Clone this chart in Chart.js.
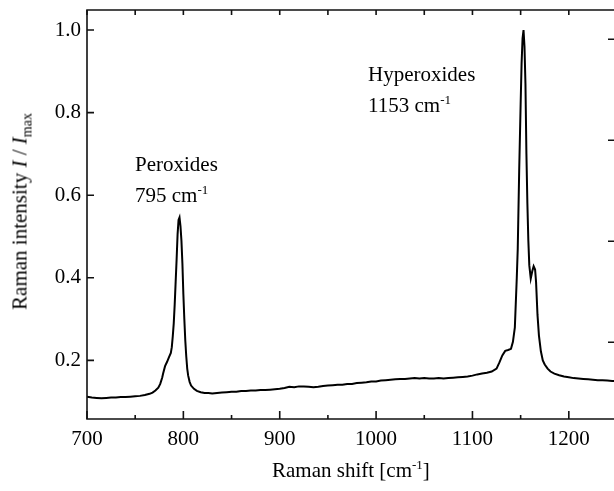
<!DOCTYPE html>
<html>
<head>
<meta charset="utf-8">
<script src="https://cdn.jsdelivr.net/npm/chart.js@4/dist/chart.umd.min.js"></script>
<style>
  html, body { margin: 0; padding: 0; background: #fff; overflow: hidden; }
  #wrap { position: relative; width: 630px; height: 491px; }
  .txt { position: absolute; font-family: "Liberation Serif", "Times New Roman", serif; font-size: 21px; color: #000; white-space: nowrap; line-height: 31px; }
  .txt sup { font-size: 13px; line-height: 0; vertical-align: 8px; }
  .txt sub { font-size: 14px; line-height: 0; vertical-align: -5px; }
</style>
</head>
<body>
<div id="wrap">
  <canvas id="chart1"></canvas>
  <div class="txt" style="left:135px; top:149px;">Peroxides<br>795 cm<sup>-1</sup></div>
  <div class="txt" style="left:368px; top:59px;">Hyperoxides<br>1153 cm<sup>-1</sup></div>
  <div class="txt" style="left:272px; top:455px;">Raman shift [cm<sup>-1</sup>]</div>
  <div class="txt" id="ytitle" style="left:-80px; top:196px; width:200px; text-align:center; transform: rotate(-90deg);">Raman intensity <i>I</i> / <i>I</i><sub>max</sub></div>
</div>
<script>
// spectrum
const shiftCm = [
  700, 705, 710, 715, 720, 725, 730, 735, 740, 745, 750, 755, 760, 765, 768, 771, 774, 776, 778, 779,
  781, 783, 785, 787, 788, 789, 790, 791, 792, 793, 794, 795, 796, 797, 798, 799, 800, 801, 802, 803,
  804, 805, 806.5, 808, 811, 814, 818, 822, 826, 830, 835, 840, 845, 850, 855, 860, 865, 870, 875, 880,
  885, 890, 895, 900, 905, 910, 915, 920, 925, 930, 935, 940, 945, 950, 955, 960, 965, 970, 975, 980,
  985, 990, 995, 1000, 1005, 1010, 1015, 1020, 1025, 1030, 1035, 1040, 1045, 1050, 1055, 1060, 1065, 1070, 1075, 1080,
  1085, 1090, 1095, 1100, 1105, 1110, 1115, 1120, 1125, 1128, 1131, 1134, 1137, 1140, 1142, 1144, 1146, 1147, 1148.5, 1150,
  1151, 1152, 1153, 1154, 1155, 1156, 1157, 1158, 1159, 1160.5, 1162, 1163.5, 1165, 1166, 1167.5, 1169, 1171, 1173, 1175, 1178,
  1181, 1185, 1190, 1195, 1200, 1205, 1210, 1215, 1220, 1225, 1230, 1235, 1240, 1245, 1250
];
const intensity = [
  0.112, 0.110, 0.109, 0.108, 0.109, 0.110, 0.110, 0.111, 0.111, 0.112, 0.113, 0.114, 0.116, 0.119, 0.122, 0.127, 0.134, 0.143, 0.158, 0.168,
  0.186, 0.196, 0.207, 0.218, 0.232, 0.258, 0.289, 0.335, 0.390, 0.445, 0.505, 0.540, 0.546, 0.525, 0.490, 0.435, 0.360, 0.300, 0.248, 0.210,
  0.180, 0.163, 0.148, 0.139, 0.131, 0.126, 0.123, 0.121, 0.121, 0.120, 0.121, 0.122, 0.123, 0.124, 0.124, 0.126, 0.126, 0.127, 0.127, 0.128,
  0.128, 0.129, 0.130, 0.131, 0.133, 0.136, 0.135, 0.137, 0.137, 0.136, 0.135, 0.136, 0.138, 0.139, 0.140, 0.141, 0.141, 0.143, 0.143, 0.145,
  0.146, 0.147, 0.149, 0.149, 0.151, 0.152, 0.153, 0.154, 0.155, 0.155, 0.156, 0.157, 0.156, 0.157, 0.156, 0.156, 0.157, 0.156, 0.157, 0.158,
  0.159, 0.160, 0.161, 0.163, 0.166, 0.168, 0.170, 0.173, 0.180, 0.195, 0.212, 0.223, 0.225, 0.228, 0.245, 0.280, 0.400, 0.470, 0.660, 0.820,
  0.920, 0.980, 1.000, 0.960, 0.870, 0.700, 0.580, 0.490, 0.430, 0.398, 0.415, 0.428, 0.420, 0.390, 0.310, 0.260, 0.222, 0.200, 0.190, 0.180,
  0.173, 0.168, 0.164, 0.161, 0.159, 0.157, 0.156, 0.155, 0.154, 0.153, 0.152, 0.152, 0.151, 0.150, 0.150
];

const xMin = 700, xMax = 1250;
const yMin = 0.058, yMax = 1.0485;
// right hand axis (cropped off), only its ticks show
const y2Min = 0.24, y2Max = 4.29;

const fontSpec = { family: '"Liberation Serif", "Times New Roman", serif', size: 21 };

// draws the box and inward-pointing ticks
const frameTicks = {
  id: 'frameTicks',
  afterDraw(chart) {
    const ctx = chart.ctx;
    const a = chart.chartArea;
    const sx = chart.scales.x, sy = chart.scales.y, sy2 = chart.scales.y2;
    ctx.save();
    ctx.strokeStyle = '#111';
    ctx.lineWidth = 1.6;
    ctx.beginPath();
    ctx.rect(a.left, a.top, a.right - a.left, a.bottom - a.top);
    ctx.stroke();
    ctx.beginPath();
    sx.ticks.forEach(t => {
      const px = sx.getPixelForValue(t.value);
      const len = t.value % 100 === 0 ? 8 : 4;
      ctx.moveTo(px, a.bottom);
      ctx.lineTo(px, a.bottom - len);
      ctx.moveTo(px, a.top);
      ctx.lineTo(px, a.top + 5);
    });
    sy.ticks.forEach(t => {
      const py = sy.getPixelForValue(t.value);
      ctx.moveTo(a.left, py);
      ctx.lineTo(a.left + 7, py);
    });
    sy2.ticks.forEach(t => {
      const py = sy2.getPixelForValue(t.value);
      ctx.moveTo(a.right, py);
      ctx.lineTo(a.right - 9, py);
    });
    ctx.stroke();
    ctx.restore();
  }
};

function noPad(s) {
  s.paddingTop = 0;
  s.paddingBottom = 0;
  s.paddingLeft = 0;
  s.paddingRight = 0;
}

function createSpectrumChart() {
  const ctx = document.querySelector('#chart1').getContext('2d');
  const points = shiftCm.map((x, i) => ({ x: x, y: intensity[i] }));

  new Chart(ctx, {
    type: 'line',
    data: {
      datasets: [{
        data: points,
        borderColor: '#000',
        borderWidth: 2,
        pointRadius: 0,
        tension: 0,
        fill: false
      }]
    },
    options: {
      responsive: true,
      maintainAspectRatio: false,
      animation: false,
      layout: { padding: { left: 0, top: 10, right: 13, bottom: 0 } },
      plugins: { legend: { display: false }, tooltip: { enabled: false } },
      scales: {
        x: {
          type: 'linear',
          min: xMin,
          max: xMax,
          grid: { display: false, drawTicks: false },
          border: { display: false },
          ticks: {
            stepSize: 50,
            autoSkip: false,
            maxRotation: 0,
            padding: 8,
            color: '#000',
            font: fontSpec,
            callback: v => (v % 100 === 0 ? String(v) : '')
          },
          afterFit: s => { s.height = 72; noPad(s); }
        },
        y: {
          position: 'left',
          min: yMin,
          max: yMax,
          grid: { display: false, drawTicks: false },
          border: { display: false },
          ticks: {
            stepSize: 0.2,
            includeBounds: false,
            padding: 6,
            color: '#000',
            font: fontSpec,
            callback: v => v.toFixed(1)
          },
          afterFit: s => { s.width = 87; noPad(s); }
        },
        y2: {
          position: 'right',
          min: y2Min,
          max: y2Max,
          grid: { display: false, drawTicks: false },
          border: { display: false },
          ticks: { stepSize: 1, includeBounds: false, display: false },
          afterFit: s => { s.width = 0; noPad(s); }
        }
      }
    },
    plugins: [frameTicks]
  });
}

createSpectrumChart();
</script>
</body>
</html>
